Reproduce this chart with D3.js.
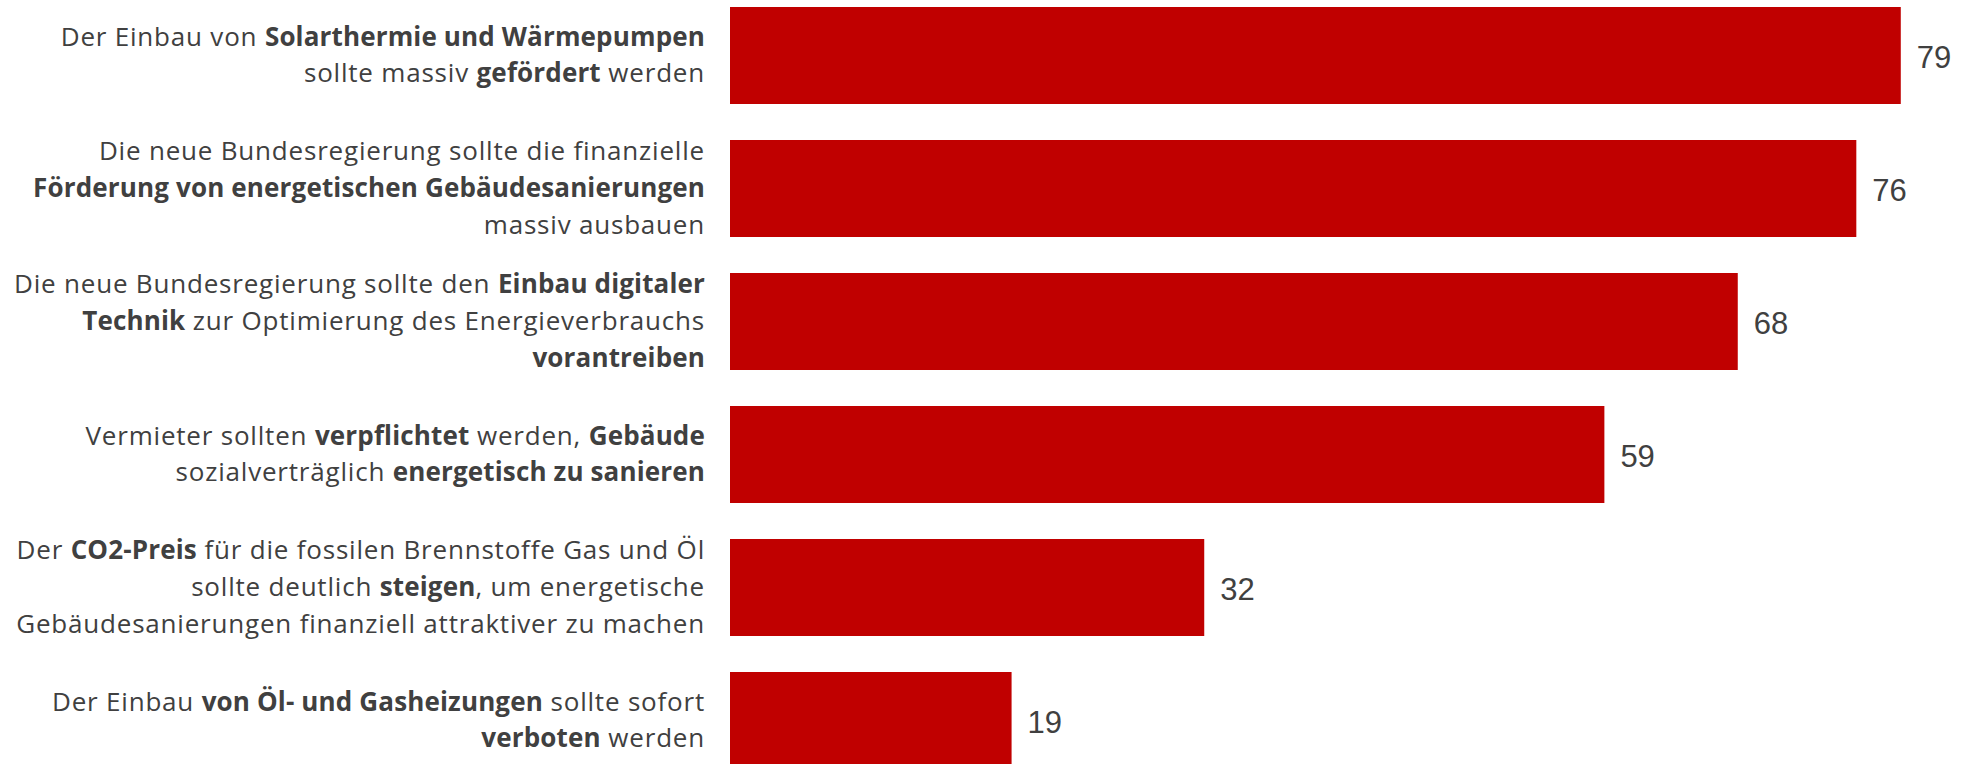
<!DOCTYPE html>
<html><head><meta charset="utf-8">
<script src="https://cdn.jsdelivr.net/npm/d3@7"></script>
<style>html,body{margin:0;padding:0;background:#fff;overflow:hidden}</style>
</head><body>
<svg id="c" width="1961" height="764"></svg>
<script>
// ---- data ----
const categories = [
  ["Der Einbau von **Solarthermie und Wärmepumpen**", "sollte massiv **gefördert** werden"],
  ["Die neue Bundesregierung sollte die finanzielle", "**Förderung von energetischen Gebäudesanierungen**", "massiv ausbauen"],
  ["Die neue Bundesregierung sollte den **Einbau digitaler**", "**Technik** zur Optimierung des Energieverbrauchs", "**vorantreiben**"],
  ["Vermieter sollten **verpflichtet** werden, **Gebäude**", "sozialverträglich **energetisch zu sanieren**"],
  ["Der **CO2-Preis** für die fossilen Brennstoffe Gas und Öl", "sollte deutlich **steigen**, um energetische", "Gebäudesanierungen finanziell attraktiver zu machen"],
  ["Der Einbau **von Öl- und Gasheizungen** sollte sofort", "**verboten** werden"]
];
const values = [79, 76, 68, 59, 32, 19];

// ---- layout ----
const svg = d3.select("#c");
const x = d3.scaleLinear().domain([0, 100]).range([730, 2212]);
const y = d3.scaleBand().domain(d3.range(values.length)).range([7, 769]).paddingInner(0.2707).paddingOuter(0);

svg.selectAll("rect.bar").data(values).join("rect")
  .attr("class", "bar")
  .attr("x", x(0))
  .attr("y", (d, i) => y(i))
  .attr("width", d => x(d) - x(0))
  .attr("height", y.bandwidth())
  .attr("fill", "#C00000");

svg.selectAll("text.val").data(values).join("text")
  .attr("class", "val")
  .attr("x", d => x(d) + 16)
  .attr("y", (d, i) => y(i) + y.bandwidth() / 2 + 12.5)
  .attr("font-family", "Liberation Sans, Arial, sans-serif")
  .attr("font-size", 31)
  .attr("fill", "#404040")
  .text(d => d);

const lh = 36.6;
const lab = svg.append("g").attr("class", "labels");
categories.forEach((lines, i) => {
  const cy = y(i) + y.bandwidth() / 2;
  const n = lines.length;
  lines.forEach((line, j) => {
    const t = lab.append("text")
      .attr("x", 705)
      .attr("y", cy + (j - (n - 1) / 2) * lh + 8.5)
      .attr("text-anchor", "end")
      .attr("font-family", "Open Sans, sans-serif")
      .attr("font-size", 26)
      .attr("fill", "#404040");
    line.split("**").forEach((seg, k) => {
      if (!seg) return;
      t.append("tspan")
        .attr("font-weight", k % 2 ? "bold" : "normal")
        .attr("letter-spacing", k % 2 ? 0.15 : 0.8)
        .text(seg);
    });
  });
});
</script>
</body></html>
